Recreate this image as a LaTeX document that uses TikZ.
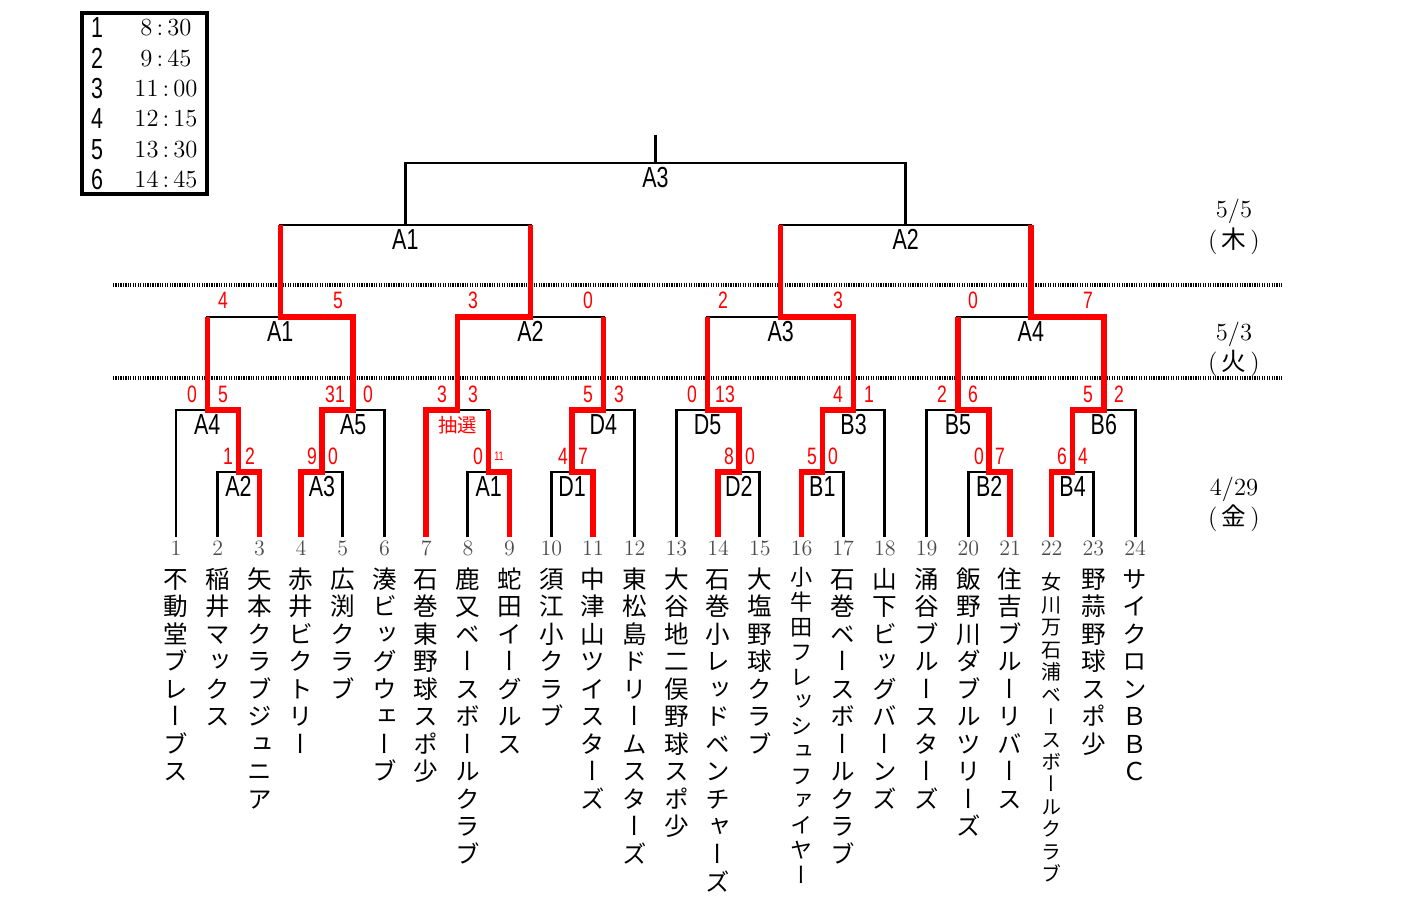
\documentclass[tikz,border=0pt]{standalone}
\usepackage{fontspec}
\usepackage{tikz}
\usetikzlibrary{calc}
\newfontfamily\jp{Noto Sans CJK JP}
\newfontfamily\vjp[RawFeature=+vert]{Noto Sans CJK JP}
\newfontfamily\cond[FakeStretch=0.74]{Liberation Sans}

\ExplSyntaxOn
\NewDocumentCommand \vstack { m }
  {
    \tl_set:Nx \l_tmpa_tl { #1 }
    \vbox:n
      {
        \dim_set:Nn \lineskiplimit { -\maxdimen }
        \skip_set:Nn \baselineskip { 1.12em }
        \tl_map_inline:Nn \l_tmpa_tl
          { \hbox_to_wd:nn { 1em } { \hss \vrule~height~.88em~depth~.12em~width~0pt ##1 \hss } }
      }
  }
\ExplSyntaxOff

\tikzset{
  bline/.style={line width=1.7pt, black},
  win/.style={line width=3.1pt, red},
  dotsep/.style={line width=2pt, dash pattern=on 0.7pt off 0.7pt},
  legbox/.style={line width=2.8pt},
  mname/.style={font=\cond\fontsize{16.5}{16.5}\selectfont, inner sep=0pt},
  score/.style={font=\cond\fontsize{13.5}{13.5}\selectfont, text=red, inner sep=0pt},
  lnum/.style={font=\fontsize{12.5}{12.5}\selectfont, text=black!70, inner sep=0pt},
  tname/.style={anchor=north, inner sep=0pt, font=\vjp\fontsize{14}{16}\selectfont},
  tmid/.style={tname, font=\vjp\fontsize{12.6}{14}\selectfont},
  tsmall/.style={tname, yshift=-0.12cm, font=\vjp\fontsize{11.4}{13}\selectfont},
  legnum/.style={font=\cond\fontsize{16.5}{16.5}\selectfont, inner sep=0pt},
  legtime/.style={font=\fontsize{14}{14}\selectfont, inner sep=0pt},
  date/.style={font=\fontsize{14}{14}\selectfont, inner sep=0pt},
}

\begin{document}
\begin{tikzpicture}[x=0.02cm, y=-0.02cm]
  \useasboundingbox (0,0) rectangle (1409,905);

  % time table
  \draw[legbox] (82,13) rectangle (207,194);
  \foreach \k/\t in {1/8\,:\,30, 2/9\,:\,45, 3/11\,:\,00, 4/12\,:\,15, 5/13\,:\,30, 6/14\,:\,45} {
    \node[legnum] (k\k) at (97,{28+30.3*(\k-1)}) {\k};
    \node[legtime] (tm\k) at (166,{28+30.3*(\k-1)}) {\t};
  }

  % days
  \node[date] (day1) at (1234,211) {5/5};
  \node[date] (day1w) at (1234,241) {(\,{\jp 木}\,)};
  \node[date] (day2) at (1234,334) {5/3};
  \node[date] (day2w) at (1234,363) {(\,{\jp 火}\,)};
  \node[date] (day3) at (1234,489) {4/29};
  \node[date] (day3w) at (1234,518) {(\,{\jp 金}\,)};
  \draw[dotsep] (113,285) -- (1282,285);
  \draw[dotsep] (113,378) -- (1282,378);

  % teams
  \foreach \i/\nm/\st in {1/不動堂ブレーブス/tname, 2/稲井マックス/tname, 3/矢本クラブジュニア/tname,
      4/赤井ビクトリー/tname, 5/広渕クラブ/tname, 6/湊ビッグウェーブ/tname,
      7/石巻東野球スポ少/tname, 8/鹿又ベースボールクラブ/tname, 9/蛇田イーグルス/tname,
      10/須江小クラブ/tname, 11/中津山ツイスターズ/tname, 12/東松島ドリームスターズ/tname,
      13/大谷地二俣野球スポ少/tname, 14/石巻小レッドベンチャーズ/tname, 15/大塩野球クラブ/tname,
      16/小牛田フレッシュファイヤー/tmid, 17/石巻ベースボールクラブ/tname, 18/山下ビッグバーンズ/tname,
      19/涌谷ブルースターズ/tname, 20/飯野川ダブルツリーズ/tname, 21/住吉ブルーリバース/tname,
      22/女川万石浦ベースボールクラブ/tsmall, 23/野蒜野球スポ少/tname, 24/サイクロンＢＢＣ/tname} {
    \coordinate (L\i) at ({176+(\i-1)*41.7},537);
    \node[lnum] (num\i) at ({176+(\i-1)*41.7},548) {\i};
    \node[\st] (team\i) at ({176+(\i-1)*41.7},566) {\vstack{\nm}};
  }

  % match points
  \coordinate (q2) at (238.55,472);
  \coordinate (q5) at (321.95,472);
  \coordinate (q8) at (488.75,472);
  \coordinate (q10) at (572.15,472);
  \coordinate (q14) at (738.95,472);
  \coordinate (q16) at (822.35,472);
  \coordinate (q20) at (989.15,472);
  \coordinate (q22) at (1072.55,472);
  \coordinate (p1) at (207.3,410);
  \coordinate (p6) at (353.2,410);
  \coordinate (p7) at (457.5,410);
  \coordinate (p12) at (603.4,410);
  \coordinate (p13) at (707.7,410);
  \coordinate (p18) at (853.6,410);
  \coordinate (p19) at (957.9,410);
  \coordinate (p24) at (1103.8,410);
  \coordinate (s1) at (280.25,317);
  \coordinate (s2) at (530.45,317);
  \coordinate (s3) at (780.65,317);
  \coordinate (s4) at (1030.85,317);
  \coordinate (sf1) at (405.35,225);
  \coordinate (sf2) at (905.75,225);
  \coordinate (fin) at (655.55,163);
  \coordinate (top) at (655.55,135);

  % bracket
  \draw[bline] (L2) |- (q2) -| (L3);
  \draw[bline] (L4) |- (q5) -| (L5);
  \draw[bline] (L8) |- (q8) -| (L9);
  \draw[bline] (L10) |- (q10) -| (L11);
  \draw[bline] (L14) |- (q14) -| (L15);
  \draw[bline] (L16) |- (q16) -| (L17);
  \draw[bline] (L20) |- (q20) -| (L21);
  \draw[bline] (L22) |- (q22) -| (L23);
  \draw[bline] (L1) |- (p1) -| (q2);
  \draw[bline] (q5) |- (p6) -| (L6);
  \draw[bline] (L7) |- (p7) -| (q8);
  \draw[bline] (q10) |- (p12) -| (L12);
  \draw[bline] (L13) |- (p13) -| (q14);
  \draw[bline] (q16) |- (p18) -| (L18);
  \draw[bline] (L19) |- (p19) -| (q20);
  \draw[bline] (q22) |- (p24) -| (L24);
  \draw[bline] (p1) |- (s1) -| (p6);
  \draw[bline] (p7) |- (s2) -| (p12);
  \draw[bline] (p13) |- (s3) -| (p18);
  \draw[bline] (p19) |- (s4) -| (p24);
  \draw[bline] (s1) |- (sf1) -| (s2);
  \draw[bline] (s3) |- (sf2) -| (s4);
  \draw[bline] (sf1) |- (fin) -| (sf2);
  \draw[bline] (fin) -- (top);

  % winners
  \draw[win] (L3) |- (q2) |- (p1) -- (p1 |- s1);
  \draw[win] (L4) |- (q5) |- (p6) |- (s1) -- (s1 |- sf1);
  \draw[win] (L9) |- (q8) -- (q8 |- p7);
  \draw[win] (L7) |- (p7) |- (s2) -- (s2 |- sf1);
  \draw[win] (L11) |- (q10) |- (p12) -- (p12 |- s2);
  \draw[win] (L14) |- (q14) |- (p13) -- (p13 |- s3);
  \draw[win] (L16) |- (q16) |- (p18) |- (s3) -- (s3 |- sf2);
  \draw[win] (L21) |- (q20) |- (p19) -- (p19 |- s4);
  \draw[win] (L22) |- (q22) |- (p24) |- (s4) -- (s4 |- sf2);

  % match names
  \foreach \m/\lb in {q2/A2, q5/A3, q8/A1, q10/D1, q14/D2, q16/B1, q20/B2, q22/B4,
      p1/A4, p6/A5, p12/D4, p13/D5, p18/B3, p19/B5, p24/B6,
      s1/A1, s2/A2, s3/A3, s4/A4, sf1/A1, sf2/A2, fin/A3}
    \node[mname] (lb-\m) at ([yshift=-0.29cm]\m) {\lb};
  \node[score, font=\jp\fontsize{11}{11}\selectfont] (lb-p7) at ([yshift=-0.31cm]p7) {抽選};

  % scores
  \foreach \x/\y/\v in {228/456/1, 250/456/2, 312/456/9, 333/456/0,
      192/394/0, 223/394/5, 335/394/31, 368/394/0, 223/300/4, 338/300/5,
      478/456/0, 563/456/4, 583/456/7,
      442/394/3, 473/394/3, 588/394/5, 619/394/3, 473/300/3, 588/300/0,
      729/456/8, 750/456/0, 812/456/5, 833/456/0,
      692/394/0, 725/394/13, 838/394/4, 869/394/1, 723/300/2, 838/300/3,
      979/456/0, 1000/456/7, 1062/456/6, 1083/456/4,
      942/394/2, 973/394/6, 1088/394/5, 1119/394/2, 973/300/0, 1088/300/7}
    \node[score] (sc-\x-\y) at (\x,\y) {\v};
  \node[score, font=\cond\fontsize{7}{7}\selectfont] (sc-499) at (499,456) {11};
\end{tikzpicture}
\end{document}
